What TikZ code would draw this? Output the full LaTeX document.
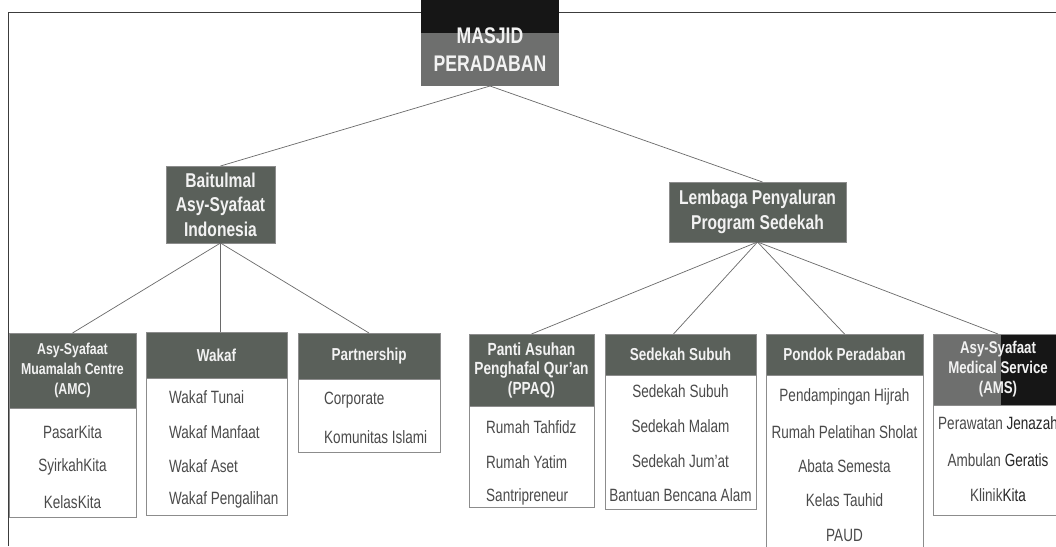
\documentclass[tikz,border=0pt]{standalone}
\usepackage{fontspec}
\setmainfont[FakeStretch=0.76, BoldFeatures={FakeStretch=0.78}]{Liberation Sans}
\usetikzlibrary{calc}
\definecolor{hdr}{HTML}{5A605A}
\definecolor{hdrlight}{HTML}{6E6F6E}
\definecolor{hdrtext}{HTML}{F2F2F2}
\definecolor{bordc}{HTML}{8C8C8C}
\definecolor{itemc}{HTML}{4A4A4A}
\definecolor{linec}{HTML}{6A6A6A}
\definecolor{framec}{HTML}{3C3C3C}
\definecolor{darkpatch}{HTML}{161616}
\begin{document}
\begin{tikzpicture}[x=1pt,y=-1pt,
  hdrbox/.style={anchor=north west, inner sep=0pt, outer sep=0pt, fill=hdr, draw=bordc, line width=0.6pt, text=hdrtext, align=center},
  bodybox/.style={anchor=north west, inner sep=0pt, outer sep=0pt, draw=bordc, fill=white, line width=0.6pt},
  item/.style={text=itemc, inner sep=0pt, font=\fontsize{17.8}{20}\selectfont},
  litem/.style={item, anchor=west},
  link/.style={draw=linec, line width=0.7pt}]
\useasboundingbox (0,0) rectangle (1056,546);
\fill[white] (0,0) rectangle (1056,546);
% frame
\draw[framec, line width=1pt] (8,546) -- (8,12) -- (1056,12);

% ---------- top box ----------
\fill[darkpatch] (421,0) rectangle (559,33);
\fill[hdrlight] (421,33) rectangle (559,86);
\node[anchor=north west, inner sep=0pt, outer sep=0pt, minimum width=138pt, minimum height=82pt, text=hdrtext, align=center,
  font=\bfseries\fontsize{22.6}{28}\selectfont] (masjidtxt) at (421,0) {\strut\\[-14pt]MASJID\\PERADABAN};
\coordinate (masjid) at (490,86);

% ---------- second level ----------
\node[hdrbox, minimum width=109pt, minimum height=77pt, font=\bfseries\fontsize{20}{24.5}\selectfont] (bait) at (166,166) {Baitulmal\\Asy-Syafaat\\Indonesia};
\node[hdrbox, minimum width=177pt, minimum height=60pt, font=\bfseries\fontsize{20}{25}\selectfont] (lemb) at (669,182) {Lembaga Penyaluran\\Program Sedekah};

% ---------- connectors ----------
\draw[link] (masjid) -- (bait.north);
\draw[link] (masjid) -- ($(lemb.north)+(5,0)$);

% ---------- third level: Baitulmal ----------
% AMC
\node[bodybox, minimum width=127pt, minimum height=109pt] (amcb) at (9,408) {};
\node[hdrbox, minimum width=127pt, minimum height=75pt, font=\bfseries\fontsize{15.8}{20}\selectfont] (amc) at (9,333) {Asy-Syafaat\\Muamalah Centre\\(AMC)};
\node[item] (amc1) at (72.5,432) {PasarKita};
\node[item] (amc2) at (72.5,467) {SyirkahKita};
\node[item] (amc3) at (72.5,502) {KelasKita};
% Wakaf
\node[bodybox, minimum width=141pt, minimum height=137pt] (wakb) at (146,378) {};
\node[hdrbox, minimum width=141pt, minimum height=46pt, font=\bfseries\fontsize{17.3}{20}\selectfont] (wak) at (146,332) {Wakaf};
\node[litem] (wak1) at (169,397) {Wakaf Tunai};
\node[litem] (wak2) at (169,432) {Wakaf Manfaat};
\node[litem] (wak3) at (169,466) {Wakaf Aset};
\node[litem] (wak4) at (169,500) {Wakaf Pengalihan};
% Partnership
\node[bodybox, minimum width=142pt, minimum height=73pt] (parb) at (298,379) {};
\node[hdrbox, minimum width=142pt, minimum height=46pt, font=\bfseries\fontsize{17.3}{20}\selectfont] (par) at (298,333) {Partnership};
\node[litem] (par1) at (324,400) {Corporate};
\node[litem] (par2) at (324,437) {Komunitas Islami};

% ---------- third level: Lembaga ----------
% PPAQ
\node[bodybox, minimum width=125pt, minimum height=101pt] (ppaqb) at (469,406) {};
\node[hdrbox, minimum width=125pt, minimum height=72pt, font=\bfseries\fontsize{17.6}{19.5}\selectfont] (ppaq) at (469,334) {Panti Asuhan\\Penghafal Qur’an\\(PPAQ)};
\node[litem] (ppaq1) at (486,427) {Rumah Tahfidz};
\node[litem] (ppaq2) at (486,462) {Rumah Yatim};
\node[litem] (ppaq3) at (486,497) {Santripreneur};
% Sedekah Subuh
\node[bodybox, minimum width=151pt, minimum height=134pt] (sedb) at (605,375) {};
\node[hdrbox, minimum width=151pt, minimum height=41pt, font=\bfseries\fontsize{17.3}{20}\selectfont] (sed) at (605,334) {Sedekah Subuh};
\node[item] (sed1) at (680.5,391) {Sedekah Subuh};
\node[item] (sed2) at (680.5,426) {Sedekah Malam};
\node[item] (sed3) at (680.5,461) {Sedekah Jum’at};
\node[item] (sed4) at (680.5,495) {Bantuan Bencana Alam};
% Pondok Peradaban
\node[bodybox, minimum width=157pt, minimum height=190pt] (ponb) at (766,375) {};
\node[hdrbox, minimum width=157pt, minimum height=41pt, font=\bfseries\fontsize{17.3}{20}\selectfont] (pon) at (766,334) {Pondok Peradaban};
\node[item] (pon1) at (844.5,397) {Pendampingan Hijrah};
\node[item] (pon2) at (844.5,432) {Rumah Pelatihan Sholat};
\node[item] (pon3) at (844.5,466) {Abata Semesta};
\node[item] (pon4) at (844.5,500) {Kelas Tauhid};
\node[item] (pon5) at (844.5,535) {PAUD};
% AMS
\node[bodybox, minimum width=140pt, minimum height=110pt] (amsb) at (933,405) {};
\fill[hdrlight] (933,334) rectangle (1001,405);
\fill[darkpatch] (1001,334) rectangle (1073,405);
\draw[bordc, line width=0.6pt] (933,405) -- (933,334) -- (1073,334);
\node[anchor=north west, inner sep=0pt, outer sep=0pt, minimum width=130pt, minimum height=71pt, text=hdrtext, align=center,
  font=\bfseries\fontsize{17}{20}\selectfont] (ams) at (933,334) {Asy-Syafaat\\Medical Service\\(AMS)};
\node[item] (ams1) at (998,423) {Perawatan \textcolor{black!85}{Jenazah}};
\node[item] (ams2) at (998,460) {Ambulan \textcolor{black!85}{Geratis}};
\node[item] (ams3) at (998,495) {Klinik\textcolor{black!85}{Kita}};

% ---------- connectors (lower) ----------
\draw[link] (bait.south) -- (amc.north);
\draw[link] (bait.south) -- (bait.south |- wak.north);
\draw[link] (bait.south) -- (par.north);
\draw[link] (lemb.south) -- (ppaq.north);
\draw[link] (lemb.south) -- ($(sed.north)+(-7,0)$);
\draw[link] (lemb.south) -- (pon.north);
\draw[link] (lemb.south) -- (998,334);
\end{tikzpicture}
\end{document}
